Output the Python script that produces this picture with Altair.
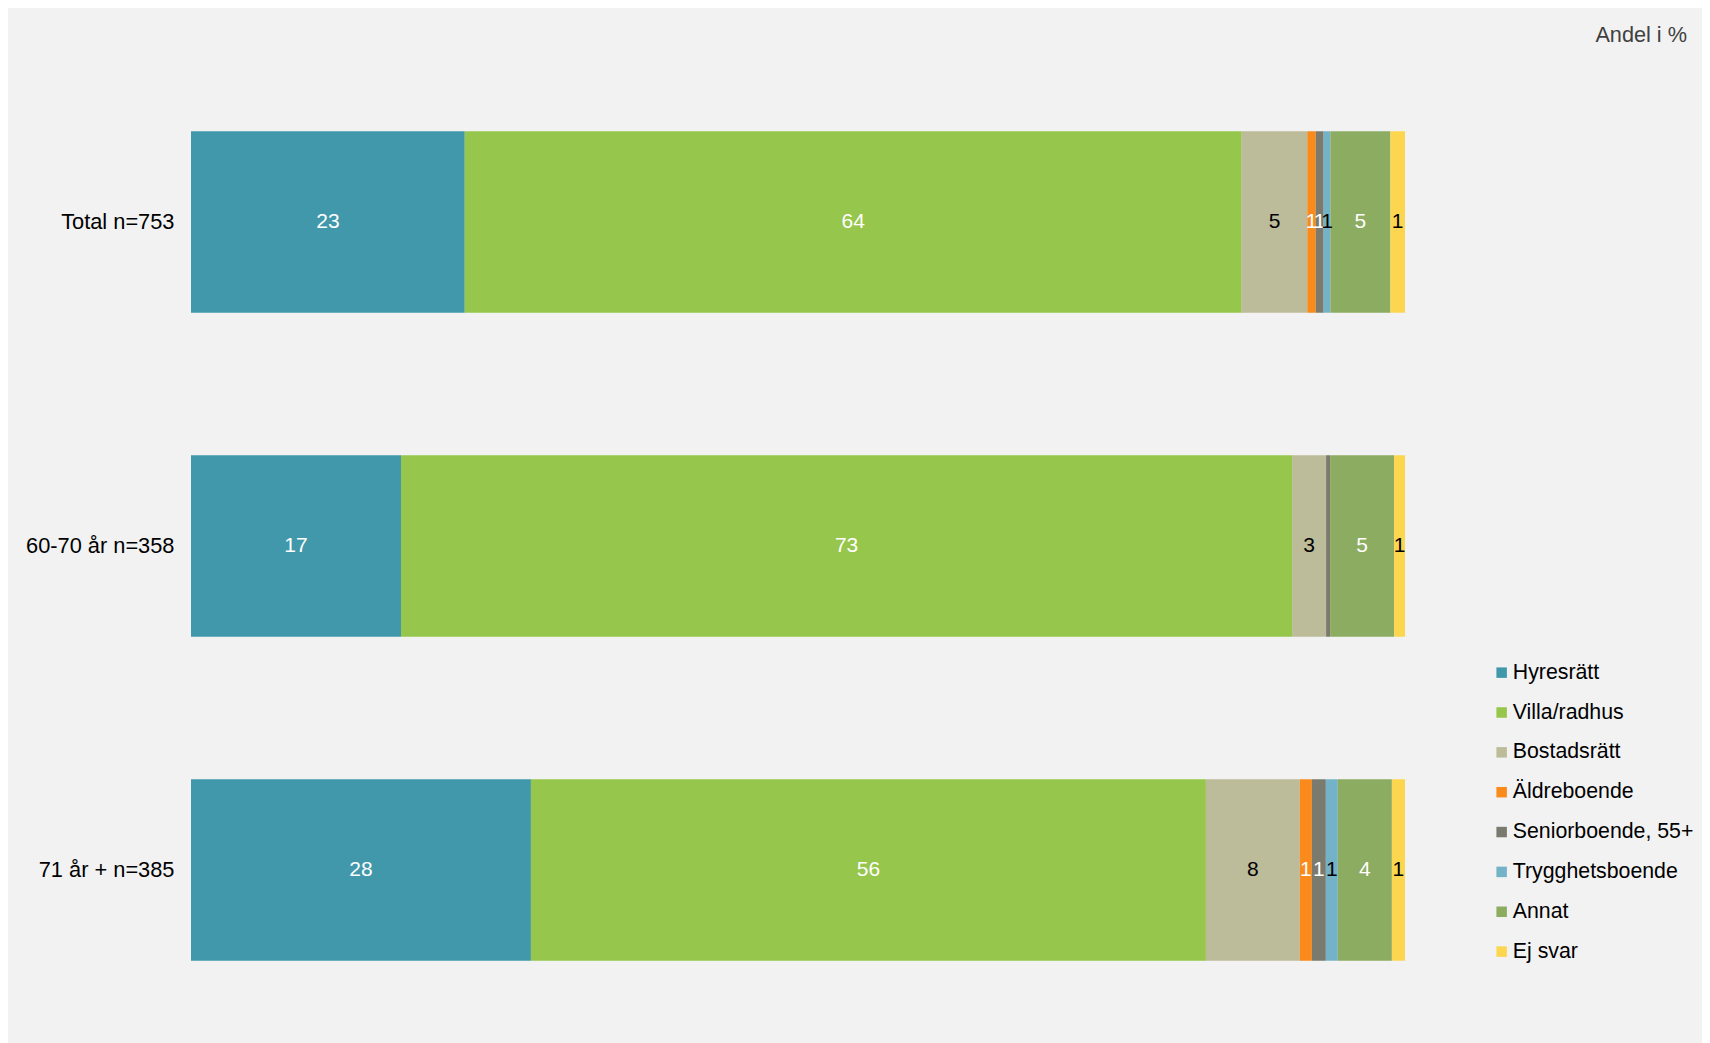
import altair as alt
import pandas as pd

groups = ["Total n=753", "60-70 år n=358", "71 år + n=385"]
categories = ["Hyresrätt", "Villa/radhus", "Bostadsrätt", "Äldreboende",
              "Seniorboende, 55+", "Trygghetsboende", "Annat", "Ej svar"]
colors = ["#4098aa", "#96c64b", "#bcbb9a", "#f98a1b",
          "#7a7b6e", "#74b3c7", "#8cac62", "#fdd64f"]

total_vals = [22.55, 64.0, 5.4, 0.7, 0.65, 0.55, 4.95, 1.2]
age_60_70_vals = [17.3, 73.4, 2.8, 0.0, 0.33, 0.0, 5.27, 0.9]
age_71_vals = [28.0, 55.6, 7.74, 0.99, 1.15, 0.99, 4.45, 1.08]

dark_label_cats = ["Bostadsrätt", "Trygghetsboende", "Ej svar"]

rows = []
for g, vals in zip(groups, [total_vals, age_60_70_vals, age_71_vals]):
    for i, (c, v) in enumerate(zip(categories, vals)):
        rows.append({"group": g, "cat": c, "order": i, "value": v})
df = pd.DataFrame(rows)

FONT = "Liberation Sans"

base = alt.Chart(df).transform_stack(
    stack="value", groupby=["group"], sort=[alt.SortField("order")], as_=["x0", "x1"]
).transform_calculate(mid="(datum.x0 + datum.x1) / 2")

y_scale = alt.Scale(paddingInner=0.44, paddingOuter=0.237, align=0.464)
y_enc = alt.Y("group:N", sort=groups, scale=y_scale,
              axis=alt.Axis(title=None, domain=False, ticks=False, tickSize=0, grid=False,
                            labelFont=FONT, labelFontSize=21.8, labelColor="#000000",
                            labelPadding=17, labelLimit=0))
x_scale = alt.Scale(domain=[0, 100], nice=False, zero=True)

bars = base.mark_rect().encode(
    x=alt.X("x0:Q", scale=x_scale, axis=None),
    x2="x1:Q",
    y=y_enc,
    color=alt.Color("cat:N", sort=categories,
                    scale=alt.Scale(domain=categories, range=colors),
                    legend=alt.Legend(title=None, orient="none", legendX=1300, legendY=602,
                                      symbolType="square", symbolSize=110, symbolStrokeWidth=0,
                                      labelFont=FONT, labelFontSize=21.3, labelColor="#000000",
                                      labelOffset=0.5, rowPadding=17.85, padding=0,
                                      labelLimit=0)),
    order=alt.Order("order:Q"),
)

labels = base.transform_filter("datum.value >= 0.5").mark_text(
    font=FONT, fontSize=21, baseline="middle", align="center"
).encode(
    x=alt.X("mid:Q", scale=x_scale, axis=None),
    y=alt.Y("group:N", sort=groups),
    text=alt.Text("value:Q", format=".0f"),
    color=alt.condition(
        "indexof(" + str(dark_label_cats) + ", datum.cat) >= 0",
        alt.value("#000000"), alt.value("#ffffff")),
)

chart = alt.layer(bars, labels).properties(
    width=1214, height=983,
    background="#f2f2f2",
    padding={"left": 183, "top": 52, "right": 297, "bottom": 0},
    autosize=alt.AutoSizeParams(type="none"),
    title=alt.TitleParams("Andel i %", anchor="end", frame="group", orient="top",
                          font=FONT, fontSize=21.7, fontWeight="normal", color="#404040",
                          baseline="alphabetic", offset=0, dx=282, dy=3.3),
).configure_view(stroke=None)

chart.save("out.html", embed_options={"renderer": "svg", "actions": False})
